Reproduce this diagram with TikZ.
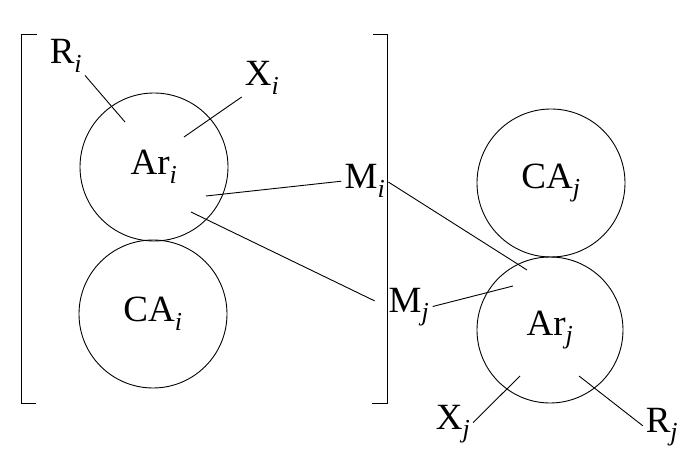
\documentclass[tikz,border=0pt]{standalone}
\usepackage{fontspec}
\setmainfont{Liberation Serif}
\usetikzlibrary{positioning}
\newcommand\sbs[1]{\textsubscript{\itshape #1}}

\begin{document}
\begin{tikzpicture}[x=1pt, y=-1pt, line width=0.9pt,
    ring/.style={circle, draw, minimum size=148pt, inner sep=0pt,
                 font=\fontsize{37}{40}\selectfont},
    lbl/.style={inner sep=1pt, font=\fontsize{37}{40}\selectfont},
    lead/.style={draw, shorten <=2pt}]
                \useasboundingbox (0,0) rectangle (697,465);
                % bracket round molecule i
                \draw (37,34) -- (21,34) -- (21,403) -- (36,403);
                \draw (373,34) -- (387,34) -- (387,403) -- (372,403);
                % spheres
                \node [ring] (ari) at (154,167) {Ar\sbs{i}};
                \node [ring] (cai) at (153,314) {CA\sbs{i}};
                \node [ring] (caj) at (551,183) {CA\sbs{j}};
                \node [ring, minimum size=146pt] (arj) at (550,330) {Ar\sbs{j}};
                % labels
                \node [lbl] (ri) at (66,56) {R\sbs{i}};
                \node [lbl] (xi) at (262,78) {X\sbs{i}};
                \node [lbl] (mi) at (365,181) {M\sbs{i}};
                \node [lbl] (mj) at (409,307) {M\sbs{j}};
                \node [lbl] (xj) at (453,424) {X\sbs{j}};
                \node [lbl] (rj) at (662,427) {R\sbs{j}};
                % inner ends of the leaders
                \coordinate (ri end) at (125,122);
                \coordinate (xi end) at (184,137);
                \coordinate (mi end) at (206,196);
                \coordinate (mj end) at (191,212);
                \coordinate (mi far) at (527,270);
                \coordinate (mj far) at (513,286);
                \coordinate (xj end) at (520,376);
                \coordinate (rj end) at (579,376);
                \path [lead] (ri.south east) -- (ri end);
                \path [lead] (xi.south west) -- (xi end);
                \path [lead] (mi.west) -- (mi end);
                \path [lead] (mi.east) -- (mi far);
                \path [lead, shorten <=14pt] (mj.west) -- (mj end);
                \path [lead] (mj.east) -- (mj far);
                \path [lead] (xj.east) -- (xj end);
                \path [lead] (rj.west) -- (rj end);
            \end{tikzpicture}
\end{document}
